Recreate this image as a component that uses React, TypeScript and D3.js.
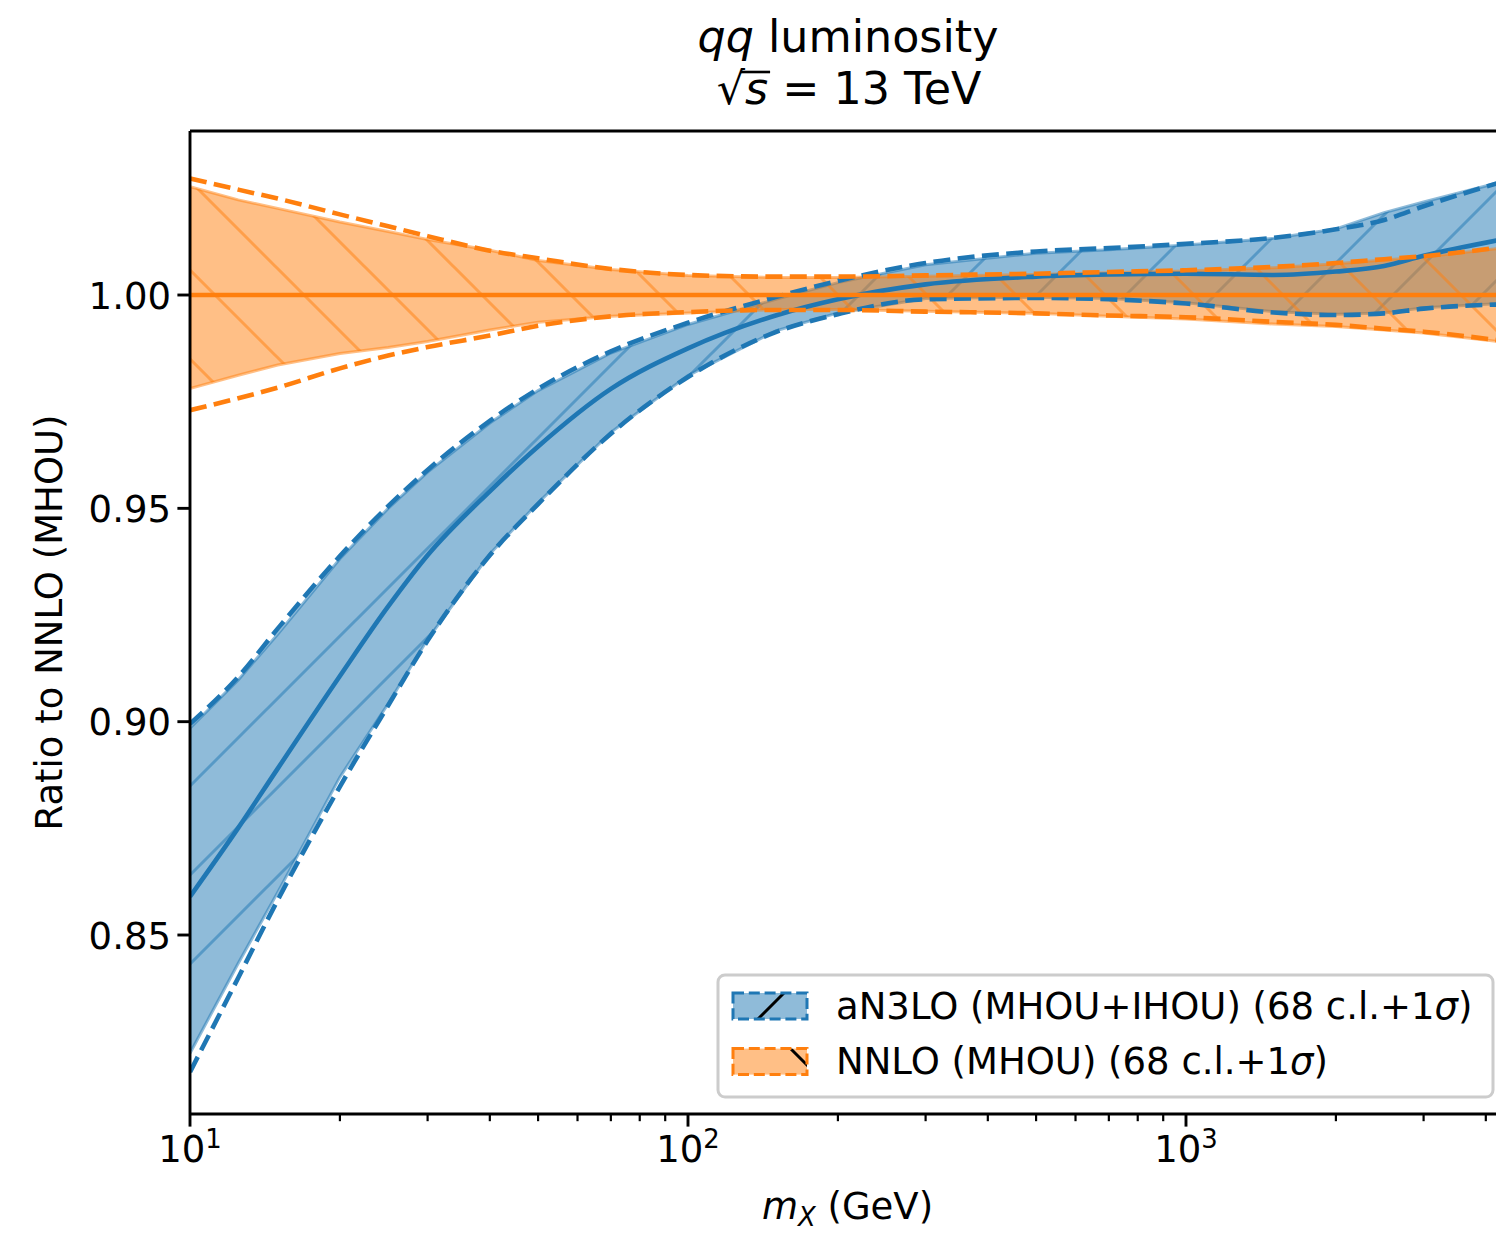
import React, { useEffect, useRef, useState } from "react";
import * as d3 from "d3";

// invariant mass grid, GeV
const massGeV = [10, 12.5, 15, 20, 25, 30, 40, 50, 70, 100, 150, 200, 300, 500, 700, 1000, 1500, 2000, 2500, 3000, 4300];

// aN3LO (MHOU+IHOU) / NNLO (MHOU)
const an3loCentral = [0.859, 0.8751, 0.889, 0.9107, 0.927, 0.939, 0.954, 0.9645, 0.978, 0.9875, 0.9952, 0.999, 1.0025, 1.0043, 1.0048, 1.005, 1.0047, 1.0055, 1.0068, 1.0092, 1.013];
const an3loUp68 = [0.8985, 0.9098, 0.9205, 0.9382, 0.95, 0.9585, 0.97, 0.9776, 0.9864, 0.9931, 0.999, 1.0029, 1.0071, 1.0098, 1.0106, 1.0117, 1.0133, 1.0155, 1.0193, 1.0218, 1.0265];
const an3loDn68 = [0.8223, 0.8434, 0.86, 0.887, 0.9042, 0.9193, 0.9393, 0.9513, 0.9678, 0.9811, 0.9916, 0.9958, 0.9992, 0.9995, 0.9992, 0.9982, 0.9961, 0.9955, 0.9958, 0.997, 0.998];
const an3loUp1s = [0.8995, 0.9105, 0.9218, 0.9388, 0.9505, 0.959, 0.9705, 0.978, 0.9868, 0.9935, 0.9995, 1.0033, 1.0075, 1.0102, 1.011, 1.012, 1.0134, 1.0154, 1.0176, 1.0208, 1.0265];
const an3loDn1s = [0.8179, 0.84, 0.8582, 0.8848, 0.9038, 0.919, 0.939, 0.951, 0.9675, 0.9808, 0.9913, 0.9955, 0.999, 0.9993, 0.999, 0.998, 0.9959, 0.9953, 0.9957, 0.9968, 0.9978];

// NNLO (MHOU) / NNLO (MHOU)
const nnloCentral = [1, 1, 1, 1, 1, 1, 1, 1, 1, 1, 1, 1, 1, 1, 1, 1, 1, 1, 1, 1, 1];
const nnloUp68 = [1.0254, 1.0223, 1.0203, 1.0171, 1.0149, 1.013, 1.0105, 1.0081, 1.006, 1.0046, 1.0041, 1.0041, 1.0044, 1.0048, 1.0052, 1.0056, 1.0064, 1.0073, 1.0082, 1.0089, 1.011];
const nnloDn68 = [0.9781, 0.9812, 0.9836, 0.9863, 0.9877, 0.9891, 0.9918, 0.9936, 0.995, 0.9958, 0.9966, 0.9966, 0.9962, 0.9957, 0.995, 0.9944, 0.9932, 0.9926, 0.9918, 0.9911, 0.989];
const nnloUp1s = [1.0273, 1.0247, 1.0226, 1.0189, 1.0161, 1.0138, 1.0104, 1.0086, 1.0061, 1.0047, 1.0043, 1.0043, 1.0046, 1.005, 1.0054, 1.0058, 1.0066, 1.0075, 1.0084, 1.0091, 1.0112];
const nnloDn1s = [0.973, 0.9758, 0.9783, 0.9828, 0.9858, 0.9878, 0.9905, 0.9928, 0.995, 0.996, 0.9965, 0.9965, 0.9961, 0.9957, 0.9952, 0.9948, 0.9937, 0.993, 0.9921, 0.9914, 0.9893];

const yTicks = [0.85, 0.9, 0.95, 1.0];
const xMajor = [10, 100, 1000];
const xMinor = [20, 30, 40, 50, 60, 70, 80, 90, 200, 300, 400, 500, 600, 700, 800, 900, 2000, 3000, 4000];

const C0 = "#1f77b4";
const C1 = "#ff7f0e";
const FONT = "DejaVu Sans, sans-serif";
const FS = 37;

const W = 1496;
const H = 1237;
const left = 190, right = 1511, top = 131, bottom = 1114;

const x = d3.scaleLog().domain([10, 4494]).range([left, right]);
const y = d3.scaleLinear().domain([0.80805, 1.03844]).range([bottom, top]);

type Pt = { m: number; lo: number; hi: number };
const band = (lo: number[], hi: number[]): Pt[] =>
  massGeV.map((m, i) => ({ m, lo: lo[i], hi: hi[i] }));

const area = d3
  .area<Pt>()
  .x((d) => x(d.m))
  .y0((d) => y(d.lo))
  .y1((d) => y(d.hi));

const line = d3
  .line<number>()
  .x((_, i) => x(massGeV[i]))
  .y((d) => y(d))
  .curve(d3.curveMonotoneX);

const P = 89; // hatch period in px
const LW = 4.6;
const DASH = "17 7.4";

const Band = ({ lo, hi, color, hatch }: { lo: number[]; hi: number[]; color: string; hatch: string }) => {
  const d = area(band(lo, hi)) || "";
  return (
    <g>
      <path d={d} fill={color} fillOpacity={0.5} stroke="none" />
      <path d={d} fill={`url(#${hatch})`} stroke="none" />
      <path d={d} fill="none" stroke={color} strokeOpacity={0.5} strokeWidth={3} />
    </g>
  );
};

const Curves = ({ c, up, dn, color }: { c: number[]; up: number[]; dn: number[]; color: string }) => (
  <g fill="none" stroke={color} strokeWidth={LW}>
    <path d={line(c) || ""} />
    <path d={line(up) || ""} strokeDasharray={DASH} />
    <path d={line(dn) || ""} strokeDasharray={DASH} />
  </g>
);

const slash = `M${-P / 2},${P / 2}L${P / 2},${-P / 2}M0,${P}L${P},0M${P / 2},${1.5 * P}L${1.5 * P},${P / 2}`;
const backslash = `M0,0L${P},${P}M${P / 2},${-P / 2}L${1.5 * P},${P / 2}M${-P / 2},${P / 2}L${P / 2},${1.5 * P}`;

export default function App() {
  const titleRef = useRef<SVGTextElement>(null);
  const [bar, setBar] = useState<[number, number] | null>(null);

  useEffect(() => {
    const t = titleRef.current;
    if (!t) return;
    try {
      const ext = t.getExtentOfChar(1);
      setBar([ext.x - 4, ext.x + ext.width + 2]);
    } catch (e) {
      setBar(null);
    }
  }, []);

  const legendRows = [
    { color: C0, hatch: "hatchLegBlue", label: "aN3LO (MHOU+IHOU) (68 c.l.+1" },
    { color: C1, hatch: "hatchLegOrange", label: "NNLO (MHOU) (68 c.l.+1" },
  ];

  return (
    <div style={{ position: "fixed", left: 0, top: 0, width: W, height: H, overflow: "hidden", background: "#fff" }}>
      <svg width={W} height={H} style={{ display: "block" }} fontFamily={FONT}>
        <defs>
          <clipPath id="plotClip">
            <rect x={left} y={top} width={right - left} height={bottom - top} />
          </clipPath>
          <pattern id="hatchBlue" patternUnits="userSpaceOnUse" x={0} y={86} width={P} height={P}>
            <path d={slash} stroke={C0} strokeOpacity={0.5} strokeWidth={3} />
          </pattern>
          <pattern id="hatchOrange" patternUnits="userSpaceOnUse" x={9} y={0} width={P} height={P}>
            <path d={backslash} stroke={C1} strokeOpacity={0.5} strokeWidth={3} />
          </pattern>
          <pattern id="hatchLegBlue" patternUnits="userSpaceOnUse" x={0} y={86} width={P} height={P}>
            <path d={slash} stroke="#000" strokeWidth={3} />
          </pattern>
          <pattern id="hatchLegOrange" patternUnits="userSpaceOnUse" x={9} y={0} width={P} height={P}>
            <path d={backslash} stroke="#000" strokeWidth={3} />
          </pattern>
        </defs>

        <g clipPath="url(#plotClip)">
          <Band lo={an3loDn68} hi={an3loUp68} color={C0} hatch="hatchBlue" />
          <Band lo={nnloDn68} hi={nnloUp68} color={C1} hatch="hatchOrange" />
          <Curves c={an3loCentral} up={an3loUp1s} dn={an3loDn1s} color={C0} />
          <Curves c={nnloCentral} up={nnloUp1s} dn={nnloDn1s} color={C1} />
        </g>

        {/* spines */}
        <g stroke="#000" strokeWidth={2.9} fill="none">
          <line x1={left} x2={left} y1={top} y2={bottom} />
          <line x1={left} x2={right} y1={top} y2={top} />
          <line x1={left} x2={right} y1={bottom} y2={bottom} />
          <line x1={right} x2={right} y1={top} y2={bottom} />
        </g>

        {/* y axis */}
        {yTicks.map((t) => (
          <g key={t}>
            <line x1={left - 12.6} x2={left} y1={y(t)} y2={y(t)} stroke="#000" strokeWidth={2.9} />
            <text x={left - 19} y={y(t) + 13.5} textAnchor="end" fontSize={FS}>
              {t.toFixed(2)}
            </text>
          </g>
        ))}

        {/* x axis */}
        {xMinor.map((t) => (
          <line key={t} x1={x(t)} x2={x(t)} y1={bottom} y2={bottom + 7.2} stroke="#000" strokeWidth={2.2} />
        ))}
        {xMajor.map((t) => (
          <g key={t}>
            <line x1={x(t)} x2={x(t)} y1={bottom} y2={bottom + 12.6} stroke="#000" strokeWidth={2.9} />
            <text x={x(t)} y={1162} textAnchor="middle" fontSize={FS}>
              10
              <tspan fontSize={FS * 0.7} dy={-14}>
                {Math.round(Math.log10(t))}
              </tspan>
            </text>
          </g>
        ))}

        {/* axis labels */}
        <text x={(left + right) / 2 - 3} y={1219} textAnchor="middle" fontSize={FS}>
          <tspan fontStyle="italic">m</tspan>
          <tspan fontStyle="italic" fontSize={FS * 0.7} dy={7}>
            X
          </tspan>
          <tspan dy={-7}> (GeV)</tspan>
        </text>
        <text transform={`translate(62,${(top + bottom) / 2}) rotate(-90)`} textAnchor="middle" fontSize={FS}>
          Ratio to NNLO (MHOU)
        </text>

        {/* title */}
        <text x={848} y={52} textAnchor="middle" fontSize={44.4}>
          <tspan fontStyle="italic">qq</tspan> luminosity
        </text>
        <text ref={titleRef} x={849} y={104} textAnchor="middle" fontSize={44.4}>
          √<tspan fontStyle="italic">s</tspan> = 13 TeV
        </text>
        {bar && <line x1={bar[0]} x2={bar[1]} y1={72} y2={72} stroke="#000" strokeWidth={2.6} />}

        {/* legend */}
        <rect x={718} y={975} width={775} height={122} rx={7} fill="#fff" fillOpacity={0.8} stroke="#cccccc" strokeWidth={3} />
        {legendRows.map((r, i) => {
          const ry = 993 + i * 55.6;
          return (
            <g key={r.label}>
              <rect x={733} y={ry} width={74} height={26} fill={r.color} fillOpacity={0.5} />
              <rect x={733} y={ry} width={74} height={26} fill={`url(#${r.hatch})`} />
              <rect x={733} y={ry} width={74} height={26} fill="none" stroke={r.color} strokeWidth={3} strokeDasharray="11 4.8" />
              <text x={836} y={ry + 25.5} fontSize={FS}>
                {r.label}
                <tspan fontStyle="italic">σ</tspan>)
              </text>
            </g>
          );
        })}
      </svg>
    </div>
  );
}
